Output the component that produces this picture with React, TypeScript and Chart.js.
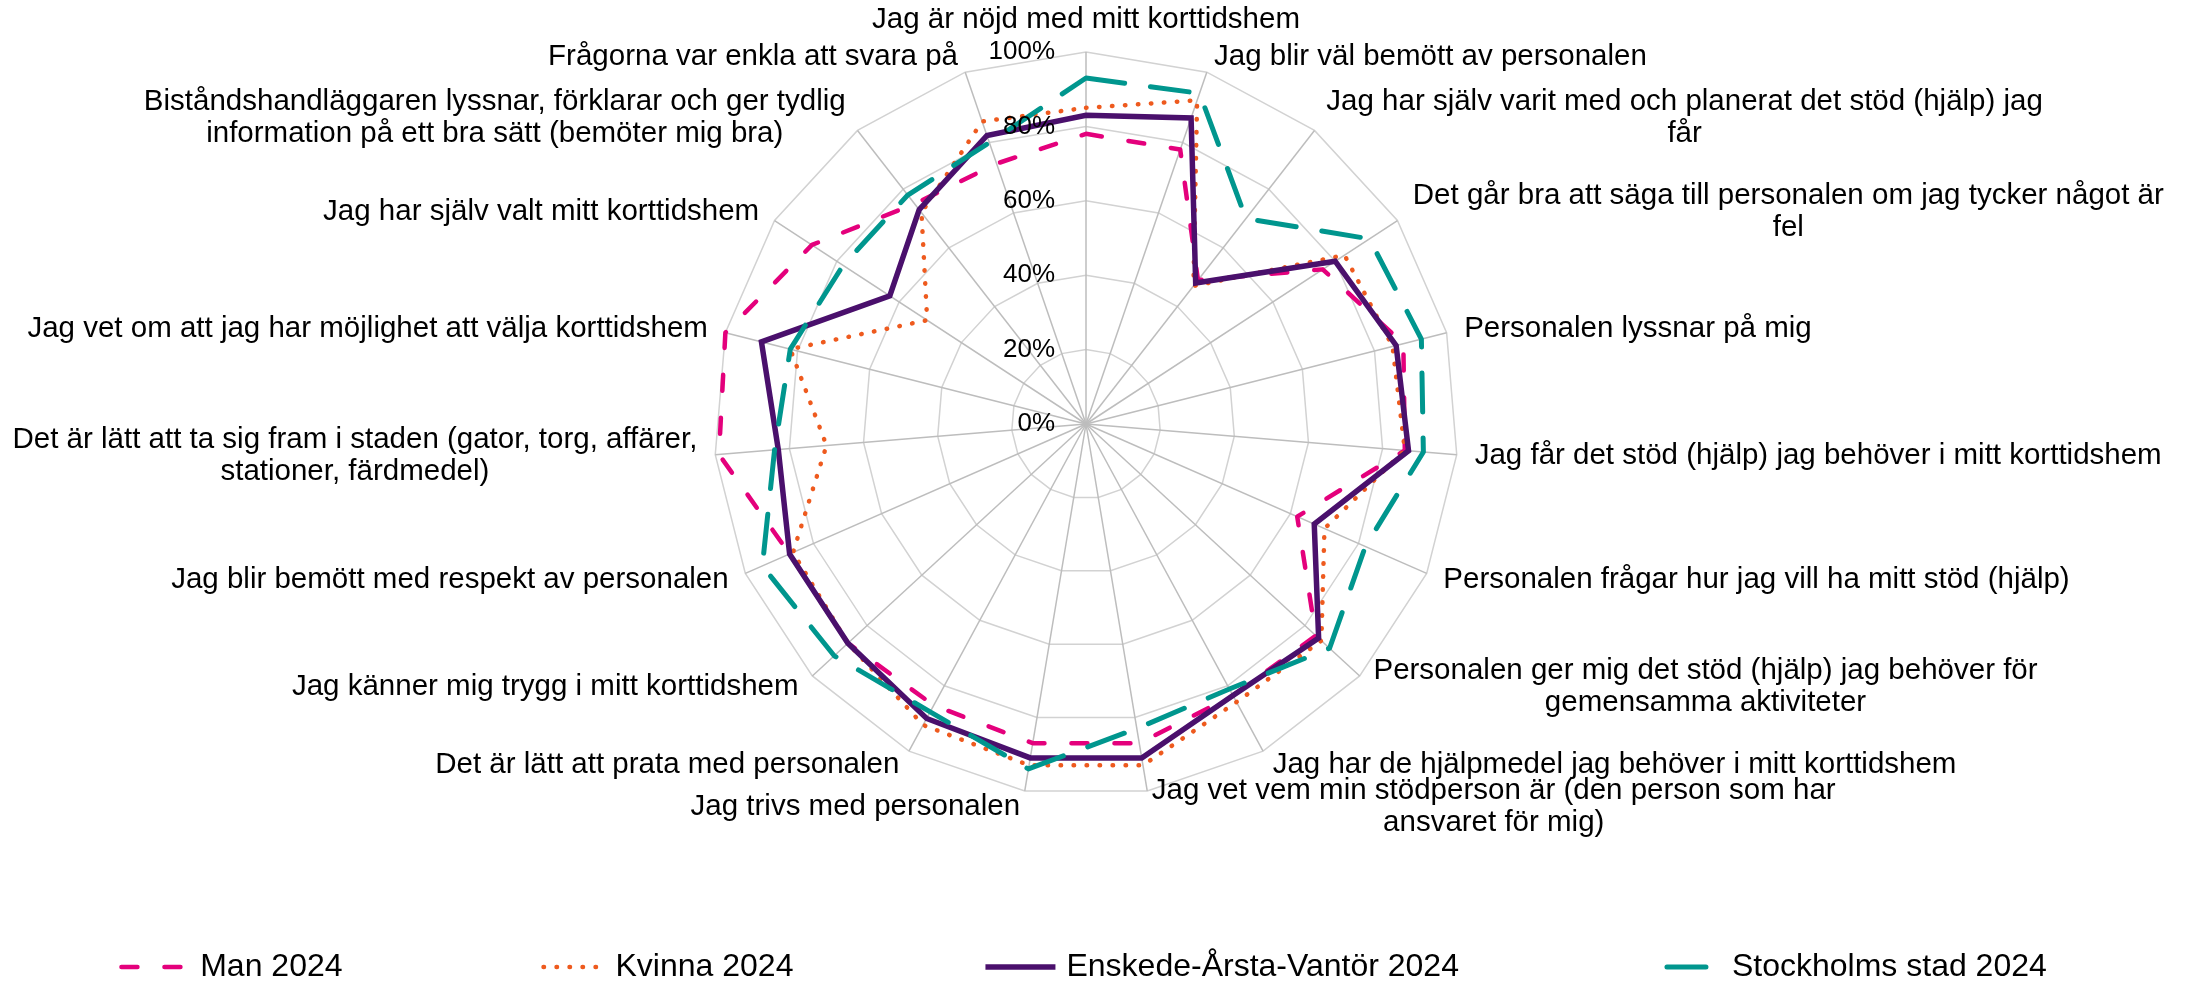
import React, { useEffect, useRef } from 'react';
import { Chart, registerables } from 'chart.js';

Chart.register(...registerables);

const categories: (string | string[])[] = [
  'Jag är nöjd med mitt korttidshem',
  'Jag blir väl bemött av personalen',
  ['Jag har själv varit med och planerat det stöd (hjälp) jag', 'får'],
  ['Det går bra att säga till personalen om jag tycker något är', 'fel'],
  'Personalen lyssnar på mig',
  'Jag får det stöd (hjälp) jag behöver i mitt korttidshem',
  'Personalen frågar hur jag vill ha mitt stöd (hjälp)',
  ['Personalen ger mig det stöd (hjälp) jag behöver för', 'gemensamma aktiviteter'],
  'Jag har de hjälpmedel jag behöver i mitt korttidshem',
  ['Jag vet vem min stödperson är (den person som har', 'ansvaret för mig)'],
  'Jag trivs med personalen',
  'Det är lätt att prata med personalen',
  'Jag känner mig trygg i mitt korttidshem',
  'Jag blir bemött med respekt av personalen',
  ['Det är lätt att ta sig fram i staden (gator, torg, affärer,', 'stationer, färdmedel)'],
  'Jag vet om att jag har möjlighet att välja korttidshem',
  'Jag har själv valt mitt korttidshem',
  ['Biståndshandläggaren lyssnar, förklarar och ger tydlig', 'information på ett bra sätt (bemöter mig bra)'],
  'Frågorna var enkla att svara på',
];

const manValues = [78, 78, 49, 76, 88, 86, 62, 84, 83, 87, 87, 86, 87, 87, 99, 100, 88, 75, 74];
const kvinnaValues = [85, 92, 47, 83, 85, 86, 70, 86, 85, 93, 93, 92, 87, 86, 70, 82, 51, 72, 86];
const enskedeValues = [83, 87, 48, 80, 86, 87, 67, 85, 83, 91, 91, 90, 87, 87, 83, 90, 63, 73, 82];
const stockholmValues = [93, 94, 70, 91, 93, 91, 82, 89, 81, 83, 94, 88, 92, 95, 84, 82, 78, 78, 80];

const seriesNames = ['Man 2024', 'Kvinna 2024', 'Enskede-Årsta-Vantör 2024', 'Stockholms stad 2024'];
const tickStep = 20;
const tickMin = 0;
const tickMax = 100;

const FONT = '"Liberation Sans", Arial, Helvetica, sans-serif';

const textPlugin = {
  id: 'radarTexts',
  afterDraw(chart: any) {
    const scale = chart.scales.r;
    const ctx: CanvasRenderingContext2D = chart.ctx;
    ctx.save();

    // tick labels (right aligned, left of the vertical axis)
    ctx.font = `26px ${FONT}`;
    ctx.fillStyle = '#000000';
    ctx.textAlign = 'right';
    ctx.textBaseline = 'middle';
    scale.ticks.forEach((t: any) => {
      const d = scale.getDistanceFromCenterForValue(t.value);
      ctx.fillText(String(t.label), scale.xCenter - 31, scale.yCenter - d);
    });

    // point labels
    ctx.font = `29.5px ${FONT}`;
    const LH = 32;
    const labels = chart.data.labels as (string | string[])[];
    labels.forEach((lbl, i) => {
      const lines = Array.isArray(lbl) ? lbl : [lbl];
      const widths = lines.map((l) => ctx.measureText(l).width);
      const boxW = Math.max(...widths);
      const boxH = lines.length * LH;
      const th = scale.getIndexAngle(i);
      const s = Math.sin(th);
      const c = Math.cos(th);
      const p = scale.getPointPosition(i, scale.drawingArea + 16);
      let left: number;
      let top: number;
      if (Math.abs(s) < 0.01) {
        left = p.x - boxW / 2;
        top = c > 0 ? p.y - boxH : p.y;
      } else {
        left = s > 0 ? p.x + 2 : p.x - 2 - boxW;
        top = p.y - boxH / 2;
      }
      ctx.textAlign = 'center';
      ctx.textBaseline = 'middle';
      lines.forEach((l, j) => {
        ctx.fillText(l, left + boxW / 2, top + LH * (j + 0.5));
      });
    });

    // legend
    ctx.font = `32px ${FONT}`;
    const lineLen = 70;
    const gapText = 11;
    const gapItem = 192;
    const dsets = chart.data.datasets;
    const tw = dsets.map((d: any) => ctx.measureText(d.label).width);
    const total = tw.reduce((a: number, b: number) => a + b + lineLen + gapText, 0) + gapItem * (dsets.length - 1);
    let x = chart.width / 2 - 10 - total / 2;
    const y = chart.height - 24;
    dsets.forEach((d: any, i: number) => {
      ctx.save();
      ctx.beginPath();
      const dash: number[] = d.borderDash || [];
      ctx.setLineDash(dash);
      let offset = 0;
      if (dash.length === 2) {
        const period = dash[0] + dash[1];
        const rem = lineLen % period;
        if (rem > 0 && rem < 10) offset = -(lineLen - dash[0]) / 2 + (period > lineLen - dash[0] ? 0 : 0);
        if (rem > 0 && rem < 10) offset = -Math.max(0, (lineLen - dash[0]) / 2 - 2);
      }
      ctx.lineDashOffset = offset;
      ctx.lineCap = d.borderCapStyle || 'butt';
      ctx.lineWidth = d.borderWidth;
      ctx.strokeStyle = d.borderColor;
      ctx.moveTo(x + (d.borderCapStyle === 'round' ? d.borderWidth / 2 : 0), y);
      ctx.lineTo(x + lineLen, y);
      ctx.stroke();
      ctx.restore();
      ctx.fillStyle = '#000000';
      ctx.textAlign = 'left';
      ctx.textBaseline = 'middle';
      ctx.fillText(d.label, x + lineLen + gapText, y);
      x += lineLen + gapText + tw[i] + gapItem;
    });

    ctx.restore();
  },
};

export default function App() {
  const ref = useRef<HTMLCanvasElement | null>(null);

  useEffect(() => {
    const canvas = ref.current;
    if (!canvas) return;
    const W = 2186;
    const H = 991;
    const R = 372;
    const cx = 1086;
    const cy = 424;
    const chart = new Chart(canvas, {
      type: 'radar',
      data: {
        labels: categories,
        datasets: [
          {
            label: seriesNames[0],
            data: manValues,
            borderColor: '#E4007C',
            borderWidth: 4.5,
            borderDash: [16, 27],
            borderCapStyle: 'round',
            borderJoinStyle: 'round',
            fill: false,
            pointRadius: 0,
            pointHitRadius: 0,
            order: 4,
          },
          {
            label: seriesNames[1],
            data: kvinnaValues,
            borderColor: '#EE5A1E',
            borderWidth: 4.5,
            borderDash: [0.5, 12.5],
            borderCapStyle: 'round',
            borderJoinStyle: 'round',
            fill: false,
            pointRadius: 0,
            pointHitRadius: 0,
            order: 3,
          },
          {
            label: seriesNames[2],
            data: enskedeValues,
            borderColor: '#4A106C',
            borderWidth: 5.5,
            borderDash: [],
            borderCapStyle: 'butt',
            borderJoinStyle: 'miter',
            fill: false,
            pointRadius: 0,
            pointHitRadius: 0,
            order: 2,
          },
          {
            label: seriesNames[3],
            data: stockholmValues,
            borderColor: '#00968E',
            borderWidth: 5,
            borderDash: [39, 26],
            borderCapStyle: 'round',
            borderJoinStyle: 'round',
            fill: false,
            pointRadius: 0,
            pointHitRadius: 0,
            order: 1,
          },
        ] as any,
      },
      options: {
        animation: false,
        responsive: false,
        devicePixelRatio: 1,
        layout: {
          padding: {
            left: cx - R,
            right: W - (cx + R),
            top: cy - R,
            bottom: H - (cy + R),
          },
        },
        elements: { line: { tension: 0 } },
        scales: {
          r: {
            min: tickMin,
            max: tickMax,
            ticks: {
              stepSize: tickStep,
              display: false,
              callback: (v: any) => `${v}%`,
            },
            pointLabels: { display: false },
            grid: { circular: false, color: '#d2d2d2', lineWidth: 1.5 },
            angleLines: { display: true, color: '#bdbdbd', lineWidth: 1.5 },
          },
        },
        plugins: {
          legend: { display: false },
          tooltip: { enabled: false },
        },
      } as any,
      plugins: [textPlugin],
    });
    return () => chart.destroy();
  }, []);

  return (
    <div style={{ position: 'fixed', left: 0, top: 0, width: 2186, height: 991, background: '#ffffff' }}>
      <canvas ref={ref} width={2186} height={991} style={{ width: 2186, height: 991, display: 'block' }} />
    </div>
  );
}
